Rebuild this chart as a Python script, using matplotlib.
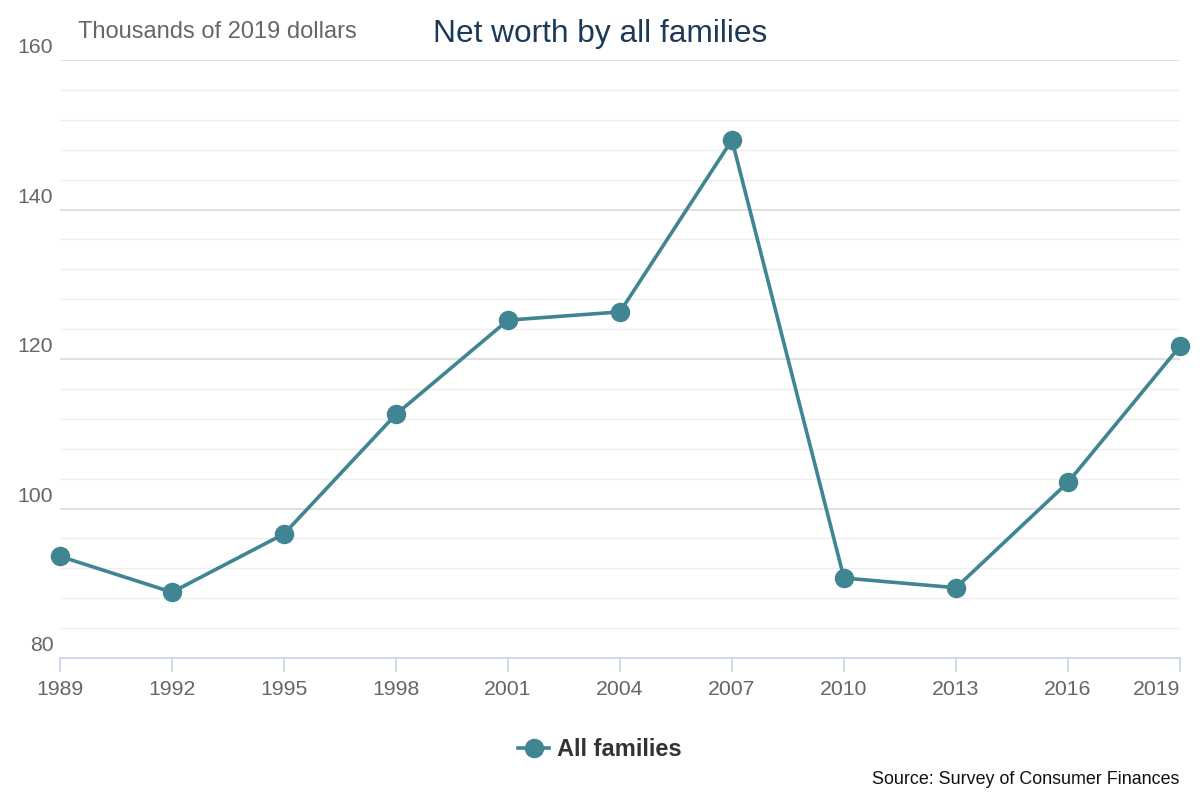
import numpy as np
import matplotlib
matplotlib.use("Agg")
import matplotlib.pyplot as plt
from matplotlib.lines import Line2D

plt.rcParams['font.family'] = ['Liberation Sans', 'DejaVu Sans']

# data (thousands of 2019 dollars)
years = [1989, 1992, 1995, 1998, 2001, 2004, 2007, 2010, 2013, 2016, 2019]
net_worth = [93.6, 88.8, 96.6, 112.6, 125.2, 126.3, 149.3, 90.7, 89.4, 103.5, 121.7]
y_labels = [80, 100, 120, 140, 160]

line_color = '#3f8592'
grid_minor = '#eeeeee'
grid_major = '#dddddd'
axis_color = '#ccd6eb'
text_gray = '#666666'

fig = plt.figure(figsize=(12, 8), dpi=100)
ax = fig.add_axes([0.05, 0.1775, 0.9333, 0.7475])

ax.set_xlim(years[0], years[-1])
ax.set_ylim(80, 160)

# gridlines: every 4, a bit darker every 20
for v in np.arange(84, 161, 4):
    c = grid_major if v % 20 == 0 else grid_minor
    ax.axhline(v, color=c, lw=1.3 if v % 20 == 0 else 1.0, zorder=0)

ax.plot(years, net_worth, color=line_color, lw=2.6, marker='o', markersize=13,
        zorder=3, clip_on=False)

for s in ['top', 'right', 'left']:
    ax.spines[s].set_visible(False)
ax.spines['bottom'].set_color(axis_color)
ax.spines['bottom'].set_linewidth(1.3)

ax.set_xticks(years)
ax.set_xticklabels([str(y) for y in years], fontsize=15.3, color=text_gray)
ax.tick_params(axis='x', length=10, width=1.3, color=axis_color, pad=6)
# last label pushed inside like the original
ax.get_xticklabels()[-1].set_horizontalalignment('right')
ax.get_xticklabels()[-1].set_x(years[-1])

ax.set_yticks([])
for v in y_labels:
    ax.text(-0.006, v + 0.4, str(v), transform=ax.get_yaxis_transform(),
            ha='right', va='bottom', fontsize=15.3, color=text_gray)

fig.text(0.065, 0.96, 'Thousands of 2019 dollars', fontsize=17, color=text_gray,
         ha='left', va='center')
fig.text(0.5, 0.958, 'Net worth by all families', fontsize=22.8, color='#1b3a57',
         ha='center', va='center')

handle = Line2D([], [], color=line_color, lw=2.6, marker='o', markersize=13)
fig.legend(handles=[handle], labels=['All families'], loc='center',
           bbox_to_anchor=(0.5, 0.0625), frameon=False, handlelength=1.3,
           handletextpad=0.35, prop={'weight': 'bold', 'size': 17})
for t in fig.legends[0].get_texts():
    t.set_color('#333333')

fig.text(0.983, 0.025, 'Source: Survey of Consumer Finances', fontsize=12.9,
         color='#111111', ha='right', va='center')

fig.savefig('out.png', dpi=100, facecolor='white')
